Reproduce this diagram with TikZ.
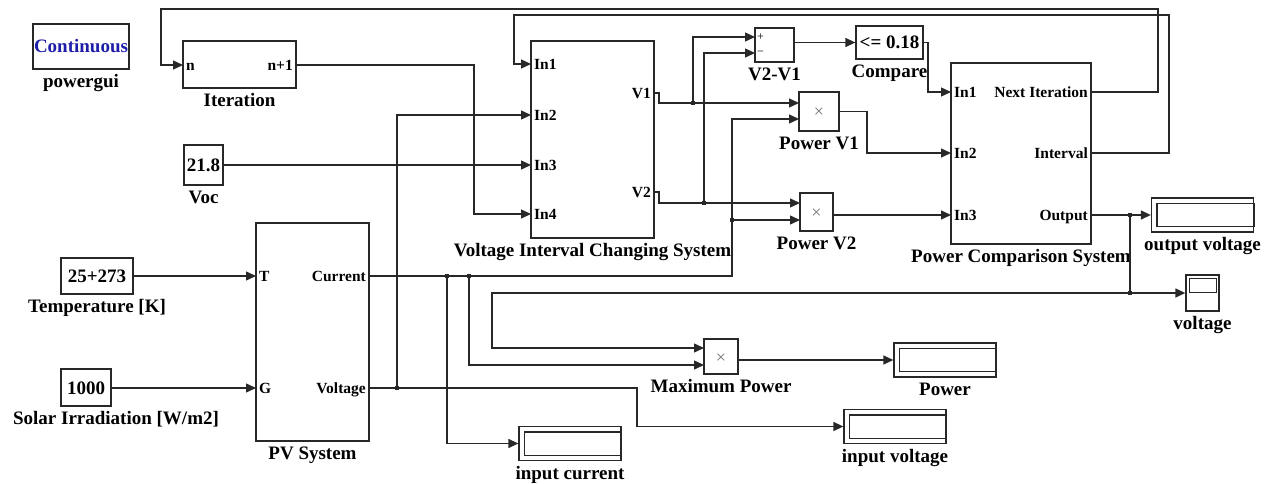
\documentclass[tikz,border=0pt]{standalone}
\usepackage{fontspec}
\setmainfont{Liberation Serif}
\usetikzlibrary{arrows.meta,positioning,calc}
\definecolor{guiBlue}{RGB}{30,30,170}
\definecolor{lineGray}{RGB}{40,40,40}
\tikzset{
	blk/.style={
		draw=lineGray,
		line width=1.3pt,
		inner sep=0pt,
		font=\fontsize{19}{21}\selectfont\bfseries,
		text height=13pt,
		text depth=0pt
	},
	mul/.style={blk, font=\fontsize{18}{19}\selectfont, text=black!55},
	scp/.style={draw=lineGray, line width=1.3pt, inner sep=0pt, minimum width=102pt, minimum height=34pt},
	lbl/.style={font=\fontsize{19}{21}\selectfont\bfseries, inner sep=1pt, text height=13pt, text depth=4pt},
	port/.style={font=\fontsize{15.5}{17}\selectfont\bfseries, inner sep=3pt, text height=10.5pt, text depth=0pt},
	wire/.style={line width=1.3pt, draw=lineGray},
	sig/.style={wire, -{Triangle[length=10pt,width=9pt]}},
	jdot/.style={fill=lineGray, inner sep=0pt, minimum size=4pt}
}
\begin{document}
\begin{tikzpicture}[x=1pt, y=-1pt]
		\useasboundingbox (0,0) rectangle (1277,484);
		% blocks
		\node[blk, minimum width=96pt, minimum height=45pt, text=guiBlue] (gui) at (81,46.5) {Continuous};
		\node[blk, minimum width=113pt, minimum height=47pt] (iter) at (239.5,64.5) {};
		\node[blk, minimum width=123pt, minimum height=197pt] (vics) at (592.5,139.5) {};
		\node[blk, minimum width=39pt, minimum height=40pt] (voc) at (203.5,165) {21.8};
		\node[blk, minimum width=72pt, minimum height=36pt] (temp) at (97,276) {25+273};
		\node[blk, minimum width=50pt, minimum height=37pt] (irr) at (86,387.5) {1000};
		\node[blk, minimum width=113pt, minimum height=218pt] (pv) at (312.5,332) {};
		\node[blk, minimum width=39pt, minimum height=34pt] (sub) at (774.5,45) {};
		\node[blk, minimum width=67pt, minimum height=33pt] (cmp) at (889.5,42.5) {<= 0.18};
		\node[mul, minimum width=40pt, minimum height=39pt] (pw1) at (819,111.5) {×};
		\node[mul, minimum width=33pt, minimum height=38pt] (pw2) at (816.5,212) {×};
		\node[blk, minimum width=140pt, minimum height=181pt] (pcs) at (1021,153.5) {};
		\node[mul, minimum width=34pt, minimum height=35pt] (mp) at (721,356.5) {×};
		\node[font=\fontsize{12}{13}\selectfont, inner sep=0pt] (plus) at (760.5,37) {+};
		\node[font=\fontsize{12}{13}\selectfont, inner sep=0pt] (minus) at (760.5,53) {−};
		% scopes
		\node[scp] (sOut) at (1202.5,215) {};
		\node[scp] (sPow) at (945,360) {};
		\node[scp] (sInV) at (895,426.5) {};
		\node[scp] (sInC) at (570,443.5) {};
		\node[scp, minimum width=33pt, minimum height=36pt] (sVol) at (1202.5,293) {};
		\foreach \s in {sOut,sPow,sInV,sInC}
			\draw[wire] ($(\s.north west)+(6,6)$) rectangle ($(\s.south east)+(0,-6)$);
		\draw[wire] ($(sVol.north west)+(4,4)$) rectangle ($(sVol.north east)+(-3,18)$);
		% labels
		\node[lbl, below=4pt of gui] (tGui) {powergui};
		\node[lbl, below=4pt of iter] (tIter) {Iteration};
		\node[lbl, below=4pt of vics] (tVics) {Voltage Interval Changing System};
		\node[lbl, below=4pt of voc] (tVoc) {Voc};
		\node[lbl, below=4pt of temp] (tTemp) {Temperature [K]};
		\node[lbl, below=4pt of irr, xshift=30pt] (tIrr) {Solar Irradiation [W/m2]};
		\node[lbl, below=4pt of pv] (tPv) {PV System};
		\node[lbl, below=4pt of sub] (tSub) {V2-V1};
		\node[lbl, below=4pt of cmp] (tCmp) {Compare};
		\node[lbl, below=4pt of pw1] (tPw1) {Power V1};
		\node[lbl, below=4pt of pw2] (tPw2) {Power V2};
		\node[lbl, below=4pt of pcs] (tPcs) {Power Comparison System};
		\node[lbl, below=4pt of mp] (tMp) {Maximum Power};
		\node[lbl, below=4pt of sOut] (tOut) {output voltage};
		\node[lbl, below=4pt of sPow] (tPow) {Power};
		\node[lbl, below=4pt of sInV] (tInV) {input voltage};
		\node[lbl, below=4pt of sInC] (tInC) {input current};
		\node[lbl, below=4pt of sVol] (tVol) {voltage};
		% ports
		\coordinate (itN) at (183,65);
		\coordinate (itO) at (296,65);
		\coordinate (vIn1) at (531,64);
		\coordinate (vIn2) at (531,115);
		\coordinate (vIn3) at (531,165);
		\coordinate (vIn4) at (531,214);
		\coordinate (vV1) at (654,93);
		\coordinate (vV2) at (654,192);
		\coordinate (pvT) at (256,276);
		\coordinate (pvG) at (256,388);
		\coordinate (pvI) at (369,276);
		\coordinate (pvV) at (369,388);
		\coordinate (pIn1) at (951,92);
		\coordinate (pIn2) at (951,153);
		\coordinate (pIn3) at (951,215);
		\coordinate (pNext) at (1091,92);
		\coordinate (pInt) at (1091,153);
		\coordinate (pOut) at (1091,215);
		\coordinate (subP) at (755,37);
		\coordinate (subM) at (755,53);
		\coordinate (w1A) at (799,103);
		\coordinate (w1B) at (799,119);
		\coordinate (w2A) at (800,203);
		\coordinate (w2B) at (800,220);
		\coordinate (mpA) at (704,348);
		\coordinate (mpB) at (704,365);
		\foreach \p/\t in {itN/n, vIn1/In1, vIn2/In2, vIn3/In3, vIn4/In4, pvT/T, pvG/G, pIn1/In1, pIn2/In2, pIn3/In3}
			\node[port, anchor=west] (l\p) at (\p) {\t};
		\foreach \p/\t in {itO/n+1, vV1/V1, vV2/V2, pvI/Current, pvV/Voltage, pNext/Next Iteration, pInt/Interval, pOut/Output}
			\node[port, anchor=east] (l\p) at (\p) {\t};
		% junctions
		\node[jdot] (jV1) at (693,103) {};
		\node[jdot] (jV2) at (704,203) {};
		\node[jdot] (jI1) at (447,276) {};
		\node[jdot] (jI2) at (469,276) {};
		\node[jdot] (jI3) at (732,220) {};
		\node[jdot] (jV) at (397,388) {};
		\node[jdot] (jO1) at (1130,215) {};
		\node[jdot] (jO2) at (1130,293) {};
		% signals
		\draw[sig] (temp) -- (pvT);
		\draw[sig] (irr.east |- pvG) -- (pvG);
		\draw[sig] (voc.east) -- (vIn3);
		\draw[sig] (itO) -- (474,65) |- (vIn4);
		\draw[sig] (pNext) -- (1158,92) |- (161,9) |- (itN);
		\draw[sig] (pInt) -- (1169,153) |- (514,15) |- (vIn1);
		\draw[sig] (pvV) -- (637,388) |- (sInV.west);
		\draw[sig] (jV) |- (vIn2);
		\draw[sig] (pvI) -- (732,276) |- (w1B);
		\draw[sig] (jI3) -- (w2B);
		\draw[sig] (jI1) |- (sInC.west);
		\draw[sig] (jI2) |- (mpB);
		\draw[sig] (vV1) -- (659,93) |- (w1A);
		\draw[sig] (jV1) |- (subP);
		\draw[sig] (vV2) -- (659,192) |- (w2A);
		\draw[sig] (jV2) |- (subM);
		\draw[sig] (sub.east |- cmp.west) -- (cmp.west);
		\draw[sig] (cmp.east) -- (928,42.5) |- (pIn1);
		\draw[sig] (pw1.east) -- (867,111.5) |- (pIn2);
		\draw[sig] (pw2.east |- pIn3) -- (pIn3);
		\draw[sig] (pOut) -- (sOut.west);
		\draw[wire] (jO1) -- (jO2);
		\draw[sig] (jO2) -- (sVol.west);
		\draw[sig] (jO2) -- (492,293) |- (mpA);
		\draw[sig] (mp.east |- sPow.west) -- (sPow.west);
	\end{tikzpicture}
\end{document}
